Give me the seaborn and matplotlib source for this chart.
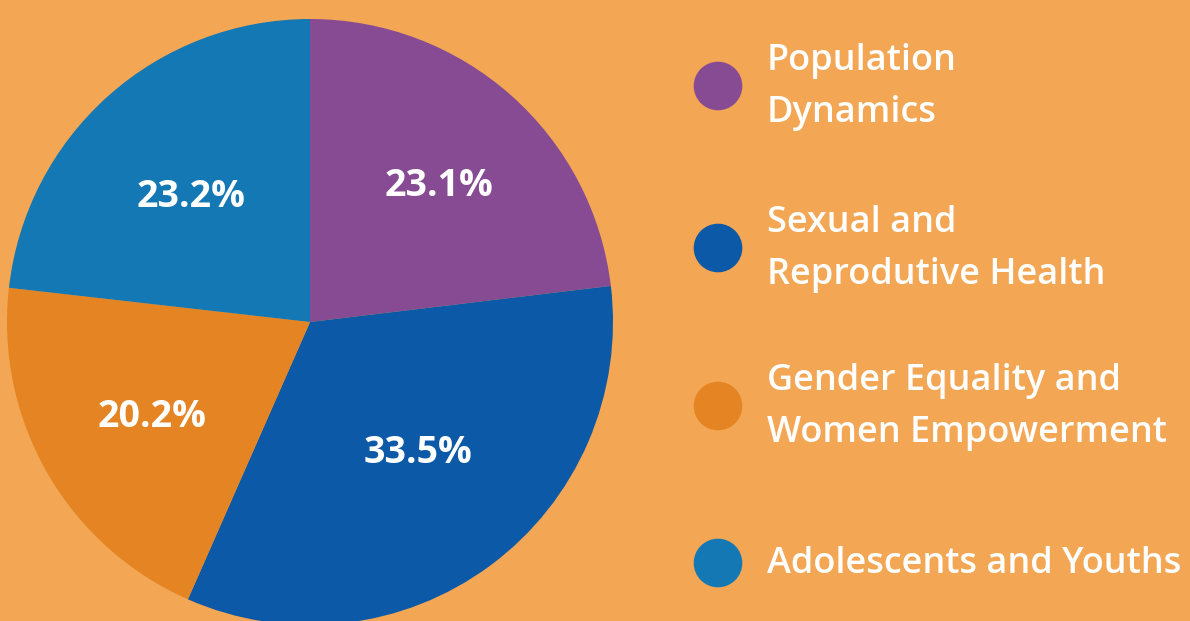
import numpy as np
import pandas as pd
import matplotlib
matplotlib.use("Agg")
import matplotlib.pyplot as plt
import seaborn as sns

categories = ["Population\nDynamics", "Sexual and\nReprodutive Health",
              "Gender Equality and\nWomen Empowerment", "Adolescents and Youths"]
shares = [23.1, 33.5, 20.2, 23.2]
colors = ["#874B93", "#0C59A7", "#E58423", "#1378B3"]
bg = "#F3A653"

sns.set_theme(style="white")
plt.rcParams["font.family"] = ["Open Sans", "DejaVu Sans"]

W, H = 1190, 621
fig = plt.figure(figsize=(W / 100, H / 100), dpi=100, facecolor=bg)

# Pie axes: centre (310, 322) px, radius 303 px
cx, cy, r = 310, 322, 303
ax = fig.add_axes([(cx - r) / W, (H - cy - r) / H, 2 * r / W, 2 * r / H])
ax.set_facecolor(bg)
wedges, texts, autotexts = ax.pie(
    shares, colors=colors, startangle=90, counterclock=False, radius=1,
    autopct=lambda p: f"{p:.1f}%", pctdistance=0.6,
    wedgeprops=dict(linewidth=0),
    textprops=dict(color="white", fontsize=27, fontweight="bold"))
ax.set_xlim(-1, 1)
ax.set_ylim(-1, 1)
ax.set_aspect("equal")
ax.axis("off")

# place percentage labels near each wedge's bisector
label_r = [0.63, 0.55, 0.60, 0.58]
label_da = [-1, 4, 0, 1]
for k, (w, t) in enumerate(zip(wedges, autotexts)):
    mid = np.deg2rad((w.theta1 + w.theta2) / 2 + label_da[k])
    t.set_position((label_r[k] * np.cos(mid), label_r[k] * np.sin(mid)))
    t.set_text(f"{shares[k]:.1f}%")
    t.set_ha("center"); t.set_va("center_baseline")

# Legend overlay in pixel coordinates
lax = fig.add_axes([0, 0, 1, 1])
lax.patch.set_alpha(0)
marker_y = [86, 248, 406, 563]
df = pd.DataFrame({"x": [718] * 4, "y": marker_y, "cat": categories})
sns.scatterplot(data=df, x="x", y="y", hue="cat", palette=colors, s=1225,
                linewidth=0, legend=False, ax=lax)
lax.set_xlim(0, W)
lax.set_ylim(H, 0)
lax.axis("off")
for y0, lab in zip(marker_y, categories):
    lines = lab.split("\n")
    b1 = y0 + 10 - (len(lines) - 1) * 26
    for i, line in enumerate(lines):
        lax.text(767, b1 + i * 52, line, color="white", fontsize=26,
                 va="baseline", ha="left", fontweight="semibold")

fig.savefig("out.png", dpi=100, facecolor=bg)
